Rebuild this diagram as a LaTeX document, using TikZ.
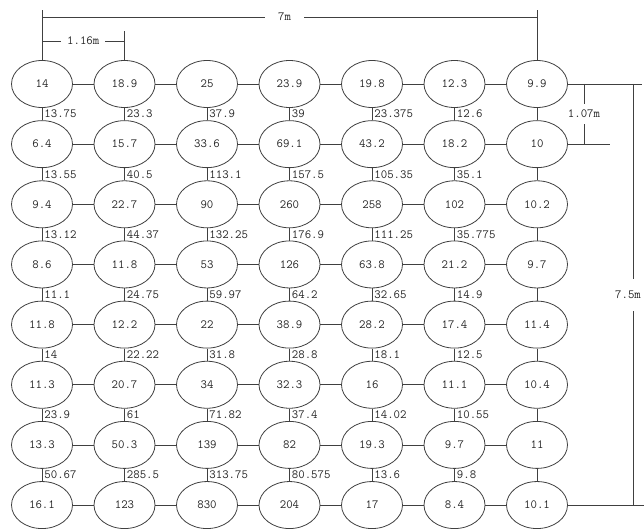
\documentclass[tikz,border=0pt]{standalone}
\usetikzlibrary{shapes.geometric}
\begin{document}
\begin{tikzpicture}[x=1pt,y=-1pt,
  txt/.style={font=\ttfamily\fontsize{12.5}{13}\selectfont, text=black!85},
  cell/.style={ellipse, draw=black!75, line width=0.8pt, minimum width=61pt, minimum height=47pt, inner sep=0pt, txt},
  conn/.style={draw=black!75, line width=0.8pt},
  lab/.style={txt, anchor=west, inner sep=1pt, xshift=1pt},
  dimlab/.style={txt, fill=white, inner xsep=8pt, inner ysep=4pt}]
\useasboundingbox (0,0) rectangle (644,529);
% cells
\foreach \r/\vals in {
  1/{14,18.9,25,23.9,19.8,12.3,9.9},
  2/{6.4,15.7,33.6,69.1,43.2,18.2,10},
  3/{9.4,22.7,90,260,258,102,10.2},
  4/{8.6,11.8,53,126,63.8,21.2,9.7},
  5/{11.8,12.2,22,38.9,28.2,17.4,11.4},
  6/{11.3,20.7,34,32.3,16,11.1,10.4},
  7/{13.3,50.3,139,82,19.3,9.7,11},
  8/{16.1,123,830,204,17,8.4,10.1}}{
  \foreach \v [count=\c] in \vals {
    \node[cell] (n-\r-\c) at ({42+82.5*(\c-1)},{84+60.15*(\r-1)}) {\v};
  }
}
% horizontal connectors
\foreach \r in {1,...,8}{
  \foreach \c in {1,...,6}{
    \pgfmathtruncatemacro\cc{\c+1}
    \draw[conn] (n-\r-\c) -- (n-\r-\cc);
  }
}
% vertical connectors with labels
\foreach \r/\labs in {
  1/{13.75,23.3,37.9,39,23.375,12.6},
  2/{13.55,40.5,113.1,157.5,105.35,35.1},
  3/{13.12,44.37,132.25,176.9,111.25,35.775},
  4/{11.1,24.75,59.97,64.2,32.65,14.9},
  5/{14,22.22,31.8,28.8,18.1,12.5},
  6/{23.9,61,71.82,37.4,14.02,10.55},
  7/{50.67,285.5,313.75,80.575,13.6,9.8}}{
  \pgfmathtruncatemacro\rr{\r+1}
  \foreach \l [count=\c] in \labs {
    \draw[conn] (n-\r-\c) -- (n-\rr-\c) node[midway, lab] {\l};
  }
  \draw[conn] (n-\r-7) -- (n-\rr-7);
}
% top dimensions
\coordinate (topY) at (0,10);
\coordinate (dimY) at (0,17);
\coordinate (d2T) at (0,31);
\coordinate (d2Y) at (0,41);
\draw[conn] (n-1-1.north) -- (n-1-1.north |- topY);
\draw[conn] (n-1-7.north) -- (n-1-7.north |- topY);
\draw[conn] (n-1-1.north |- dimY) -- (n-1-7.north |- dimY) node[pos=0.49, dimlab, inner xsep=13pt] {7m};
\draw[conn] (n-1-2.north) -- (n-1-2.north |- d2T);
\draw[conn] (n-1-1.north |- d2Y) -- (n-1-2.north |- d2Y) node[midway, dimlab, inner xsep=6pt] {1.16m};
% right dimensions
\coordinate (rx) at (633,0);
\coordinate (rend) at (642,0);
\coordinate (rend2) at (650,0);
\coordinate (sx) at (584,0);
\coordinate (sx2) at (610,0);
\draw[conn] (n-1-7.east) -- (n-1-7.east -| rend);
\draw[conn] (n-8-7.east) -- (n-8-7.east -| rend2);
\draw[conn] (n-1-7.east -| rx) -- (n-8-7.east -| rx) node[midway, dimlab, inner ysep=12pt, inner xsep=2pt, xshift=-5pt] {7.5m};
\draw[conn] (n-2-7.east) -- (n-2-7.east -| sx2);
\draw[conn] (n-1-7.east -| sx) -- (n-2-7.east -| sx) node[midway, dimlab, inner ysep=6pt, inner xsep=2pt] {1.07m};
\end{tikzpicture}
\end{document}
